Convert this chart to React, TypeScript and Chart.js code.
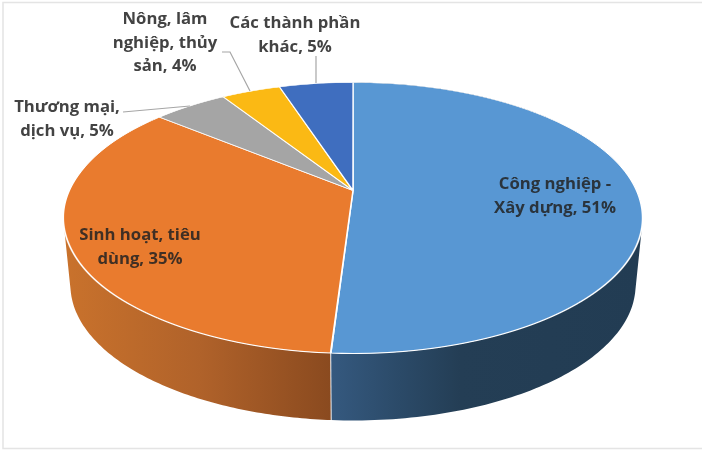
import React, { useEffect, useRef } from 'react'
import { Chart, ArcElement, DoughnutController, PieController, Plugin } from 'chart.js'

Chart.register(ArcElement, DoughnutController, PieController)

const categories = [
  'Công nghiệp - Xây dựng',
  'Sinh hoạt, tiêu dùng',
  'Thương mại, dịch vụ',
  'Nông, lâm nghiệp, thủy sản',
  'Các thành phần khác',
]
const shares = [51, 35, 5, 4, 5]
const topColors = ['#5897d3', '#e97b2e', '#a5a5a5', '#fbb914', '#3f6ebf']
const labelLines = [
  ['Công nghiệp -', 'Xây dựng, 51%'],
  ['Sinh hoạt, tiêu', 'dùng, 35%'],
  ['Thương mại,', 'dịch vụ, 5%'],
  ['Nông, lâm', 'nghiệp, thủy', 'sản, 4%'],
  ['Các thành phần', 'khác, 5%'],
]
// centre x / y of the first line for each label
const labelAnchors = [
  [555, 184],
  [140, 235],
  [67, 107],
  [165, 19],
  [295, 23],
]
const leaderLines = [
  [[123, 112], [190, 106]],
  [[222, 52], [230, 52], [250, 91]],
  [[316, 56], [316, 83]],
]
// side wall shading, [x, colour] from left to right
const wallShades: Record<number, [number, string][]> = {
  0: [[331, '#35597f'], [400, '#2b4a68'], [460, '#243e55'], [642, '#223c53']],
  1: [[65, '#c9722c'], [200, '#b0622a'], [331, '#8a4a1f']],
}

// the pie plane is tilted: a circle point (u, v) lands on
// (b * u / (1 + k * v), a * v / (1 + k * v)) around the apex
const apexX = 353
const apexY = 190.5
const a = 129.9
const b = 283.5
const k = -0.203
const depth = 67
const bottomShrink = 0.976

const rim = (angle: number, lower: boolean) => {
  const w = 1 + k * Math.sin(angle)
  const x = (b * Math.cos(angle)) / w
  const y = (a * Math.sin(angle)) / w
  return lower ? [apexX + x * bottomShrink, apexY + y + depth] : [apexX + x, apexY + y]
}

const tiltedPie: Plugin<'pie'> = {
  id: 'tiltedPie',
  beforeDatasetsDraw(chart) {
    const ctx = chart.ctx
    const arcs = chart.getDatasetMeta(0).data as any[]

    // side walls first, the top surface covers whatever is behind it
    arcs.forEach((arc, i) => {
      const shades = wallShades[i]
      if (!shades) return
      const steps = 180
      ctx.beginPath()
      for (let s = 0; s < steps; s++) {
        const a0 = arc.startAngle + ((arc.endAngle - arc.startAngle) * s) / steps
        const a1 = arc.startAngle + ((arc.endAngle - arc.startAngle) * (s + 1)) / steps
        const quad = [rim(a0, false), rim(a1, false), rim(a1, true), rim(a0, true)]
        // same winding for every quad so overlaps near the tangents stay filled
        let area = 0
        quad.forEach(([x, y], n) => {
          const [nx, ny] = quad[(n + 1) % 4]
          area += x * ny - nx * y
        })
        if (area < 0) quad.reverse()
        quad.forEach(([x, y], n) => (n === 0 ? ctx.moveTo(x, y) : ctx.lineTo(x, y)))
        ctx.closePath()
      }
      const x0 = shades[0][0]
      const x1 = shades[shades.length - 1][0]
      const gradient = ctx.createLinearGradient(x0, 0, x1, 0)
      shades.forEach(([x, colour]) => gradient.addColorStop((x - x0) / (x1 - x0), colour))
      ctx.fillStyle = gradient
      ctx.fill()
    })
    arcs.forEach((arc) => {
      const [x0, y0] = rim(arc.endAngle, false)
      const [x1, y1] = rim(arc.endAngle, true)
      ctx.beginPath()
      ctx.moveTo(x0, y0)
      ctx.lineTo(x1, y1)
      ctx.strokeStyle = 'rgba(235,240,245,0.8)'
      ctx.lineWidth = 1.2
      ctx.stroke()
    })

    // top surface, row by row since canvas has no perspective transform
    for (let row = 70; row < 370; row++) {
      const dy = row + 0.5 - apexY
      const v = dy / (a - k * dy)
      const w = 1 + k * v
      arcs.forEach((arc) => {
        const r = arc.outerRadius
        const sx = b / (w * r)
        const sy = a / (w * w * r)
        ctx.save()
        ctx.beginPath()
        ctx.rect(0, row, chart.width, 1)
        ctx.clip()
        ctx.transform(sx, 0, 0, sy, apexX - sx * arc.x, row + 0.5 - sy * (arc.y + v * r))
        arc.draw(ctx)
        ctx.restore()
      })
    }
    return false
  },
  afterDraw(chart) {
    const ctx = chart.ctx
    ctx.save()
    ctx.strokeStyle = '#a6a6a6'
    ctx.lineWidth = 1.2
    leaderLines.forEach((points) => {
      ctx.beginPath()
      points.forEach(([x, y], i) => (i === 0 ? ctx.moveTo(x, y) : ctx.lineTo(x, y)))
      ctx.stroke()
    })
    ctx.font = 'bold 16.7px "Open Sans"'
    ctx.fillStyle = 'rgba(34,34,34,0.85)'
    ctx.textAlign = 'center'
    ctx.textBaseline = 'middle'
    labelLines.forEach((lines, i) => {
      const [x, y] = labelAnchors[i]
      lines.forEach((line, n) => ctx.fillText(line, x, y + n * 23.8))
    })
    ctx.restore()
  },
  beforeDraw(chart) {
    const ctx = chart.ctx
    ctx.save()
    ctx.fillStyle = '#ffffff'
    ctx.fillRect(0, 0, chart.width, chart.height)
    ctx.strokeStyle = '#e4e4e4'
    ctx.lineWidth = 1.5
    ctx.beginPath()
    ctx.moveTo(chart.width, 2.5)
    ctx.lineTo(3, 2.5)
    ctx.lineTo(3, 448.5)
    ctx.lineTo(chart.width, 448.5)
    ctx.stroke()
    ctx.restore()
  },
}

const App: React.FC = () => {
  const canvasRef = useRef<HTMLCanvasElement | null>(null)

  useEffect(() => {
    if (!canvasRef.current) return
    const chart = new Chart(canvasRef.current, {
      type: 'pie',
      data: {
        labels: categories,
        datasets: [
          {
            data: shares,
            backgroundColor: topColors,
            borderColor: '#ffffff',
            borderWidth: 1.5,
          },
        ],
      },
      options: {
        responsive: false,
        animation: false,
        devicePixelRatio: 1,
        radius: 283,
        plugins: { legend: { display: false }, tooltip: { enabled: false } },
      },
      plugins: [tiltedPie],
    })
    return () => chart.destroy()
  }, [])

  return (
    <div style={{ position: 'absolute', left: 0, top: 0 }}>
      <canvas ref={canvasRef} width={702} height={452} style={{ display: 'block' }}></canvas>
    </div>
  )
}

export default App
